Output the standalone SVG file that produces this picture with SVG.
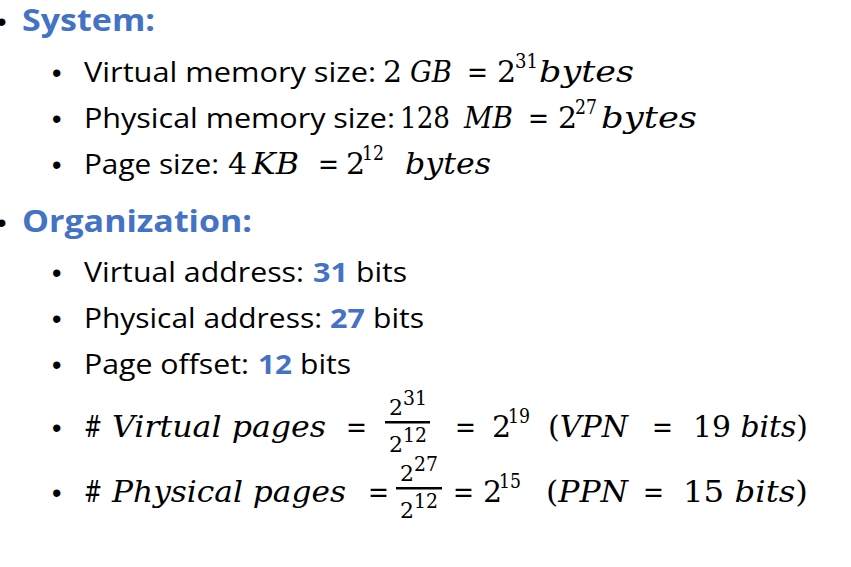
<svg xmlns="http://www.w3.org/2000/svg" width="851" height="567" viewBox="0 0 851 567">
<style>
.h{font-family:"Open Sans","Liberation Sans",sans-serif;font-weight:bold;font-size:30px;fill:#4472C4}
.t{font-family:"Open Sans","Liberation Sans",sans-serif;font-size:27px;fill:#000}
.b{font-weight:bold;fill:#4472C4}
.m{font-family:"DejaVu Serif","Liberation Serif",serif;font-size:30px;fill:#000}
.i{font-style:italic}
.s{font-family:"DejaVu Serif","Liberation Serif",serif;font-size:21px;fill:#000}
.f{font-family:"DejaVu Serif","Liberation Serif",serif;font-size:22px;fill:#000}
.d{font-family:"Liberation Sans",sans-serif;font-size:27px;fill:#000}
</style>
<rect width="851" height="567" fill="#fff"/>
<g id="system">
<text class="d" x="-3" y="31">•</text>
<text class="h" x="22" y="31" textLength="133" lengthAdjust="spacingAndGlyphs">System:</text>
<text class="d" x="52" y="82">•</text>
<text class="t" x="84" y="82" textLength="292" lengthAdjust="spacingAndGlyphs">Virtual memory size:</text>
<text class="m" x="383" y="82">2</text><text class="m i" x="410" y="82" textLength="42" lengthAdjust="spacingAndGlyphs">GB</text>
<text class="m" x="467" y="82" textLength="21" lengthAdjust="spacingAndGlyphs">=</text><text class="m" x="497" y="82">2</text><text class="s" x="515" y="68" textLength="23" lengthAdjust="spacingAndGlyphs">31</text>
<text class="m i" x="539" y="82" textLength="95" lengthAdjust="spacingAndGlyphs">bytes</text>
<text class="d" x="52" y="128">•</text>
<text class="t" x="84" y="128" textLength="311" lengthAdjust="spacingAndGlyphs">Physical memory size:</text>
<text class="m" x="400" y="128" textLength="50" lengthAdjust="spacingAndGlyphs">128</text><text class="m i" x="464" y="128" textLength="49" lengthAdjust="spacingAndGlyphs">MB</text>
<text class="m" x="528" y="128" textLength="21" lengthAdjust="spacingAndGlyphs">=</text><text class="m" x="558" y="128">2</text><text class="s" x="575" y="114" textLength="22" lengthAdjust="spacingAndGlyphs">27</text>
<text class="m i" x="601" y="128" textLength="96" lengthAdjust="spacingAndGlyphs">bytes</text>
<text class="d" x="52" y="174">•</text>
<text class="t" x="84" y="174" textLength="135" lengthAdjust="spacingAndGlyphs">Page size:</text>
<text class="m" x="228" y="174">4</text><text class="m i" x="252" y="174" textLength="47" lengthAdjust="spacingAndGlyphs">KB</text>
<text class="m" x="318" y="174" textLength="21" lengthAdjust="spacingAndGlyphs">=</text><text class="m" x="346" y="174">2</text><text class="s" x="362" y="160" textLength="22" lengthAdjust="spacingAndGlyphs">12</text>
<text class="m i" x="405" y="174" textLength="86" lengthAdjust="spacingAndGlyphs">bytes</text>
</g>
<g id="organization">
<text class="d" x="-3" y="232">•</text>
<text class="h" x="22" y="232" textLength="230" lengthAdjust="spacingAndGlyphs">Organization:</text>
<text class="d" x="52" y="282">•</text>
<text class="t" x="84" y="282" textLength="220" lengthAdjust="spacingAndGlyphs">Virtual address:</text>
<text class="t b" x="313" y="282" textLength="35" lengthAdjust="spacingAndGlyphs">31</text>
<text class="t" x="356" y="282" textLength="51" lengthAdjust="spacingAndGlyphs">bits</text>
<text class="d" x="52" y="328">•</text>
<text class="t" x="84" y="328" textLength="238" lengthAdjust="spacingAndGlyphs">Physical address:</text>
<text class="t b" x="330" y="328" textLength="35" lengthAdjust="spacingAndGlyphs">27</text>
<text class="t" x="373" y="328" textLength="51" lengthAdjust="spacingAndGlyphs">bits</text>
<text class="d" x="52" y="374">•</text>
<text class="t" x="84" y="374" textLength="165" lengthAdjust="spacingAndGlyphs">Page offset:</text>
<text class="t b" x="258" y="374" textLength="34" lengthAdjust="spacingAndGlyphs">12</text>
<text class="t" x="300" y="374" textLength="51" lengthAdjust="spacingAndGlyphs">bits</text>
<text class="d" x="52" y="437">•</text>
<text class="m" x="84" y="437" textLength="18" lengthAdjust="spacingAndGlyphs">#</text>
<text class="m i" x="112" y="437" textLength="214" lengthAdjust="spacingAndGlyphs">Virtual pages</text>
<text class="m" x="346" y="437" textLength="21" lengthAdjust="spacingAndGlyphs">=</text>
<text class="f" x="389" y="415">2</text><text class="s" x="403" y="405" font-size="16" textLength="24" lengthAdjust="spacingAndGlyphs">31</text>
<rect x="385" y="421" width="45" height="2.5" fill="#000"/>
<text class="f" x="389" y="452">2</text><text class="s" x="403" y="442" font-size="16" textLength="24" lengthAdjust="spacingAndGlyphs">12</text>
<text class="m" x="455" y="437" textLength="21" lengthAdjust="spacingAndGlyphs">=</text><text class="m" x="492" y="437">2</text><text class="s" x="508" y="423" textLength="22" lengthAdjust="spacingAndGlyphs">19</text>
<text class="m" x="548" y="437" textLength="80" lengthAdjust="spacingAndGlyphs">(<tspan class="i">VPN</tspan></text>
<text class="m" x="652" y="437" textLength="21" lengthAdjust="spacingAndGlyphs">=</text>
<text class="m" x="693" y="437" textLength="115" lengthAdjust="spacingAndGlyphs">19 <tspan class="i">bits</tspan>)</text>
<text class="d" x="52" y="502">•</text>
<text class="m" x="84" y="502" textLength="18" lengthAdjust="spacingAndGlyphs">#</text>
<text class="m i" x="112" y="502" textLength="234" lengthAdjust="spacingAndGlyphs">Physical pages</text>
<text class="m" x="368" y="502" textLength="21" lengthAdjust="spacingAndGlyphs">=</text>
<text class="f" x="400" y="481">2</text><text class="s" x="414" y="471" font-size="16" textLength="24" lengthAdjust="spacingAndGlyphs">27</text>
<rect x="396" y="487" width="46" height="2.5" fill="#000"/>
<text class="f" x="400" y="518">2</text><text class="s" x="414" y="508" font-size="16" textLength="24" lengthAdjust="spacingAndGlyphs">12</text>
<text class="m" x="453" y="502" textLength="21" lengthAdjust="spacingAndGlyphs">=</text><text class="m" x="483" y="502">2</text><text class="s" x="499" y="488" textLength="22" lengthAdjust="spacingAndGlyphs">15</text>
<text class="m" x="546" y="502" textLength="82" lengthAdjust="spacingAndGlyphs">(<tspan class="i">PPN</tspan></text>
<text class="m" x="643" y="502" textLength="21" lengthAdjust="spacingAndGlyphs">=</text>
<text class="m" x="683" y="502" textLength="125" lengthAdjust="spacingAndGlyphs">15 <tspan class="i">bits</tspan>)</text>
</g>
</svg>
